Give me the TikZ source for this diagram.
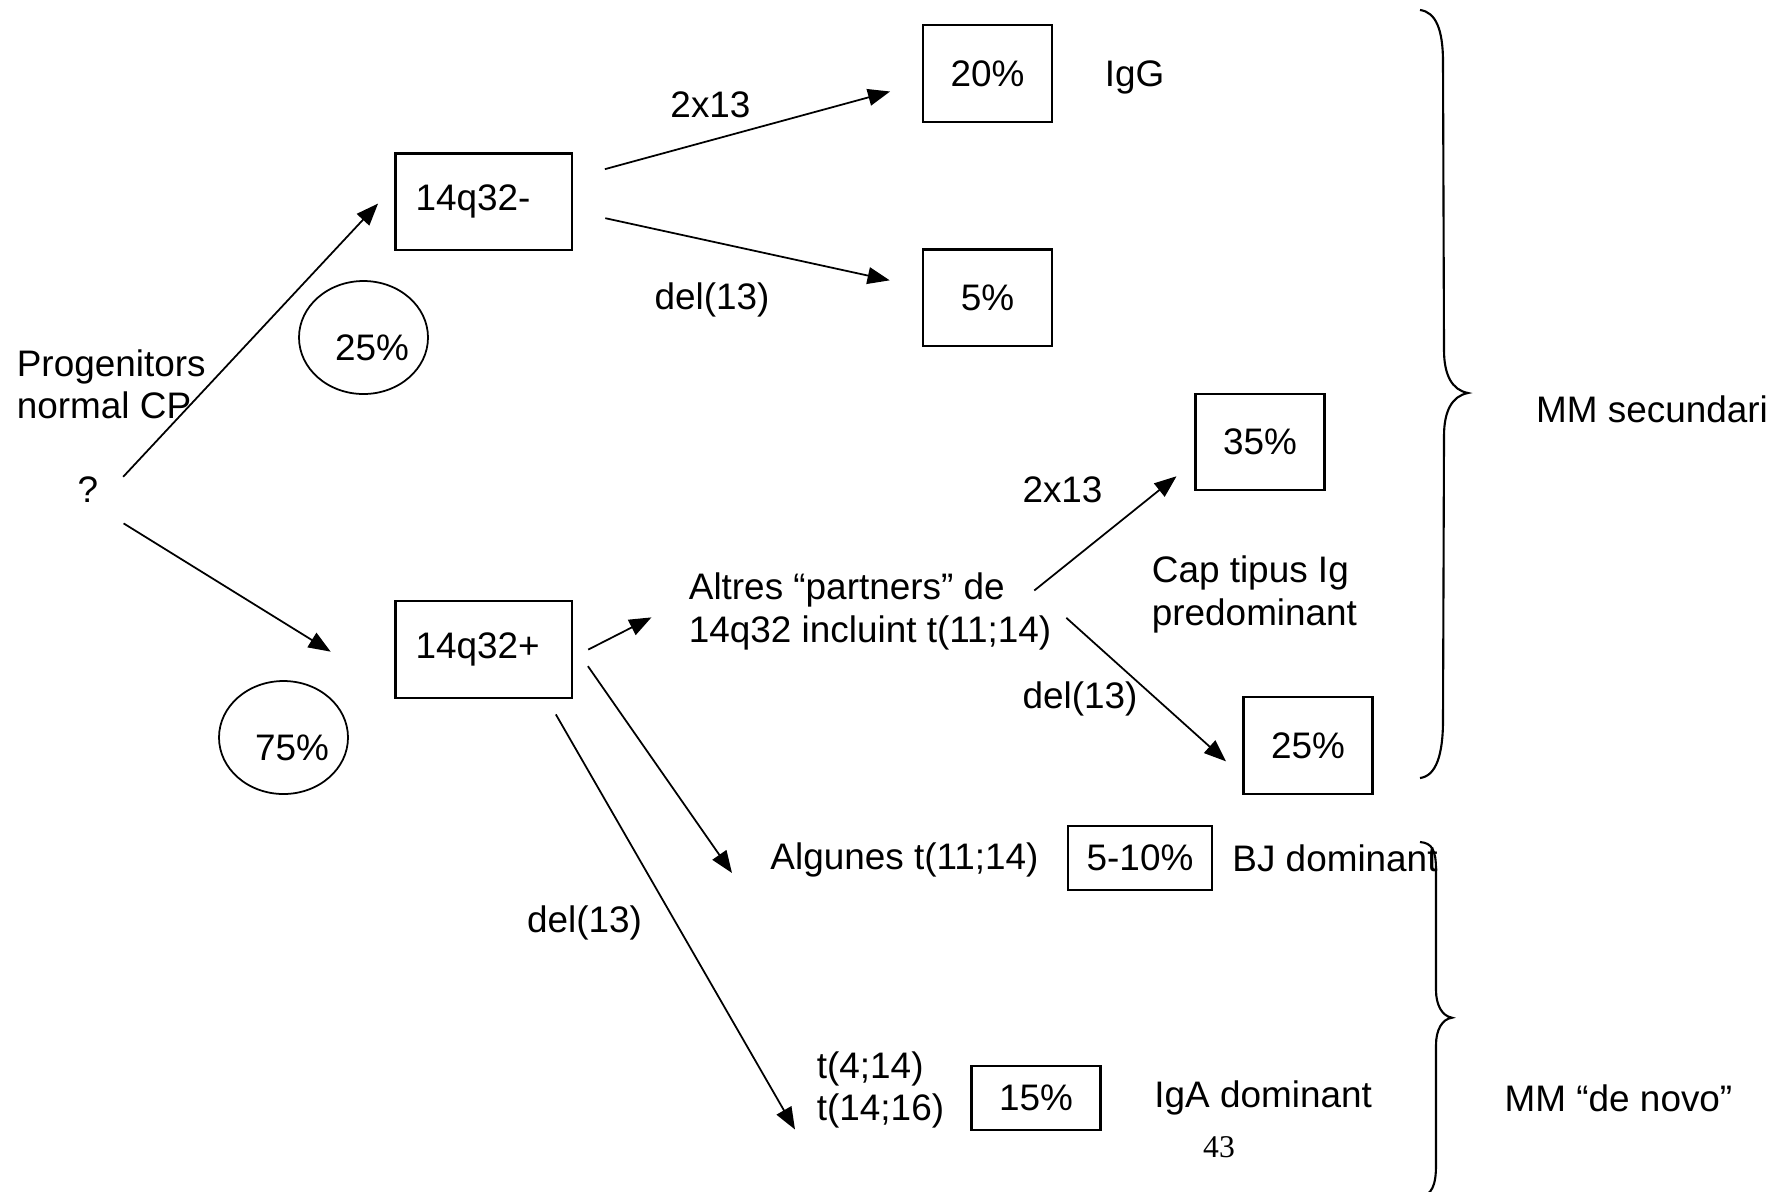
\documentclass[tikz,border=0pt]{standalone}
\usepackage{fontspec}
\setmainfont{Liberation Sans}
\newfontfamily\pagefont{Liberation Serif}
\usetikzlibrary{arrows.meta,shapes,positioning}

\begin{document}
\begin{tikzpicture}[>={Triangle[length=6.3pt,width=4.8pt]},line width=0.5pt,
every node/.style={font=\fontsize{10.5}{12}\selectfont},
box node/.style={rectangle,draw,line width=0.6pt,minimum width=1.29cm,minimum height=0.965cm},
gene node/.style={box node,minimum width=1.765cm,text width=1.365cm,align=left},
pct node/.style={ellipse,draw,inner sep=0pt,minimum width=1.29cm,minimum height=1.13cm,
  text width=0.91cm,align=right,text height=0.45cm,text depth=0pt},
txt node/.style={inner sep=0pt,align=left}]

\useasboundingbox (0,0) rectangle (17.78,-11.91);

\node[txt node,anchor=west] (prog) at (0.16,-3.84) {Progenitors\\normal CP};
\node (q) at (0.88,-4.90) {?};

\node[pct node] (p25) at (3.635,-3.375) {25\%};
\node[pct node] (p75) at (2.835,-7.375) {75\%};

\node[gene node] (b14m) at (4.8375,-2.0175) {14q32-};
\node[gene node] (b14p) at (4.8375,-6.495) {14q32+};
\node[box node] (b20) at (9.875,-0.736) {20\%};
\node[box node] (b5) at (9.875,-2.9775) {5\%};
\node[box node] (b35) at (12.60,-4.418) {35\%};
\node[box node] (b25) at (13.08,-7.455) {25\%};
\node[box node,minimum width=1.44cm,minimum height=0.645cm] (b510) at (11.40,-8.578) {5-10\%};
\node[box node,minimum height=0.64cm] (b15) at (10.36,-10.98) {15\%};

\node[txt node,yshift=-0.04cm] (igg) [right=0.51cm of b20] {IgG};
\node[txt node] (lab1) at (7.105,-1.05) {2x13};
\node[txt node] (lab2) at (7.12,-3.00) {del(13)};
\node[txt node,anchor=west] (altres) at (6.88,-6.115) {Altres “partners” de\\14q32 incluint t(11;14)};
\node[txt node] (lab3) at (10.625,-4.90) {2x13};
\node[txt node,anchor=west] (cap) at (11.51,-5.945) {Cap tipus Ig\\predominant};
\node[txt node] (lab4) at (10.80,-6.99) {del(13)};
\node[txt node] (alg) at (9.045,-8.60) {Algunes t(11;14)};
\node[txt node] (bj) [right=0.185cm of b510] {BJ dominant};
\node[txt node] (lab5) at (5.845,-9.23) {del(13)};
\node[txt node,anchor=west] (t414) at (8.16,-10.90) {t(4;14)\\t(14;16)};
\node[txt node] (iga) [right=0.52cm of b15] {IgA dominant};
\node[txt node] (mmsec) at (16.52,-4.09) {MM secundari};
\node[txt node] (mmnovo) at (16.185,-10.98) {MM “de novo”};
\node[txt node,font=\pagefont\fontsize{9}{10}\selectfont] (pg) at (12.19,-11.47) {43};

\coordinate (algtip) at (7.32,-8.73);
\coordinate (ttip) at (7.95,-11.295);

\path[->]
(q.east) edge[shorten <=0.18cm,shorten >=0.24cm] (b14m.170)
(q.south east) edge[shorten <=0.15cm,shorten >=0.75cm] (b14p.205)
(b14m.15) edge[shorten <=0.33cm,shorten >=0.33cm] (b20.188)
(b14m.354) edge[shorten <=0.33cm,shorten >=0.33cm] (b5.171)
(b14p.355) edge[shorten <=0.17cm,shorten >=0.41cm] (altres.176)
(b14p.3) edge[shorten <=0.26cm] (algtip)
(b14p.322) edge[shorten <=0.18cm] (ttip)
(altres.11) edge[shorten <=-0.23cm,shorten >=0.23cm] (b35.197)
(altres.2) edge[shorten <=0.19cm,shorten >=0.22cm] (b25.205);

% braces
\draw[line width=0.6pt] (14.20,-0.10) .. controls (14.36,-0.12) and (14.43,-0.30) .. (14.43,-0.62)
 -- (14.44,-3.50) .. controls (14.44,-3.75) and (14.52,-3.90) .. (14.68,-3.93)
 .. controls (14.52,-3.96) and (14.44,-4.11) .. (14.44,-4.36)
 -- (14.43,-7.20) .. controls (14.43,-7.55) and (14.36,-7.76) .. (14.20,-7.78);
\draw[line width=0.6pt] (14.20,-8.42) .. controls (14.32,-8.43) and (14.36,-8.50) .. (14.36,-8.70)
 -- (14.36,-9.90) .. controls (14.36,-10.05) and (14.42,-10.16) .. (14.52,-10.177)
 .. controls (14.42,-10.19) and (14.36,-10.30) .. (14.36,-10.45)
 -- (14.36,-11.65) .. controls (14.36,-11.85) and (14.32,-11.95) .. (14.20,-11.97);
\end{tikzpicture}
\end{document}
